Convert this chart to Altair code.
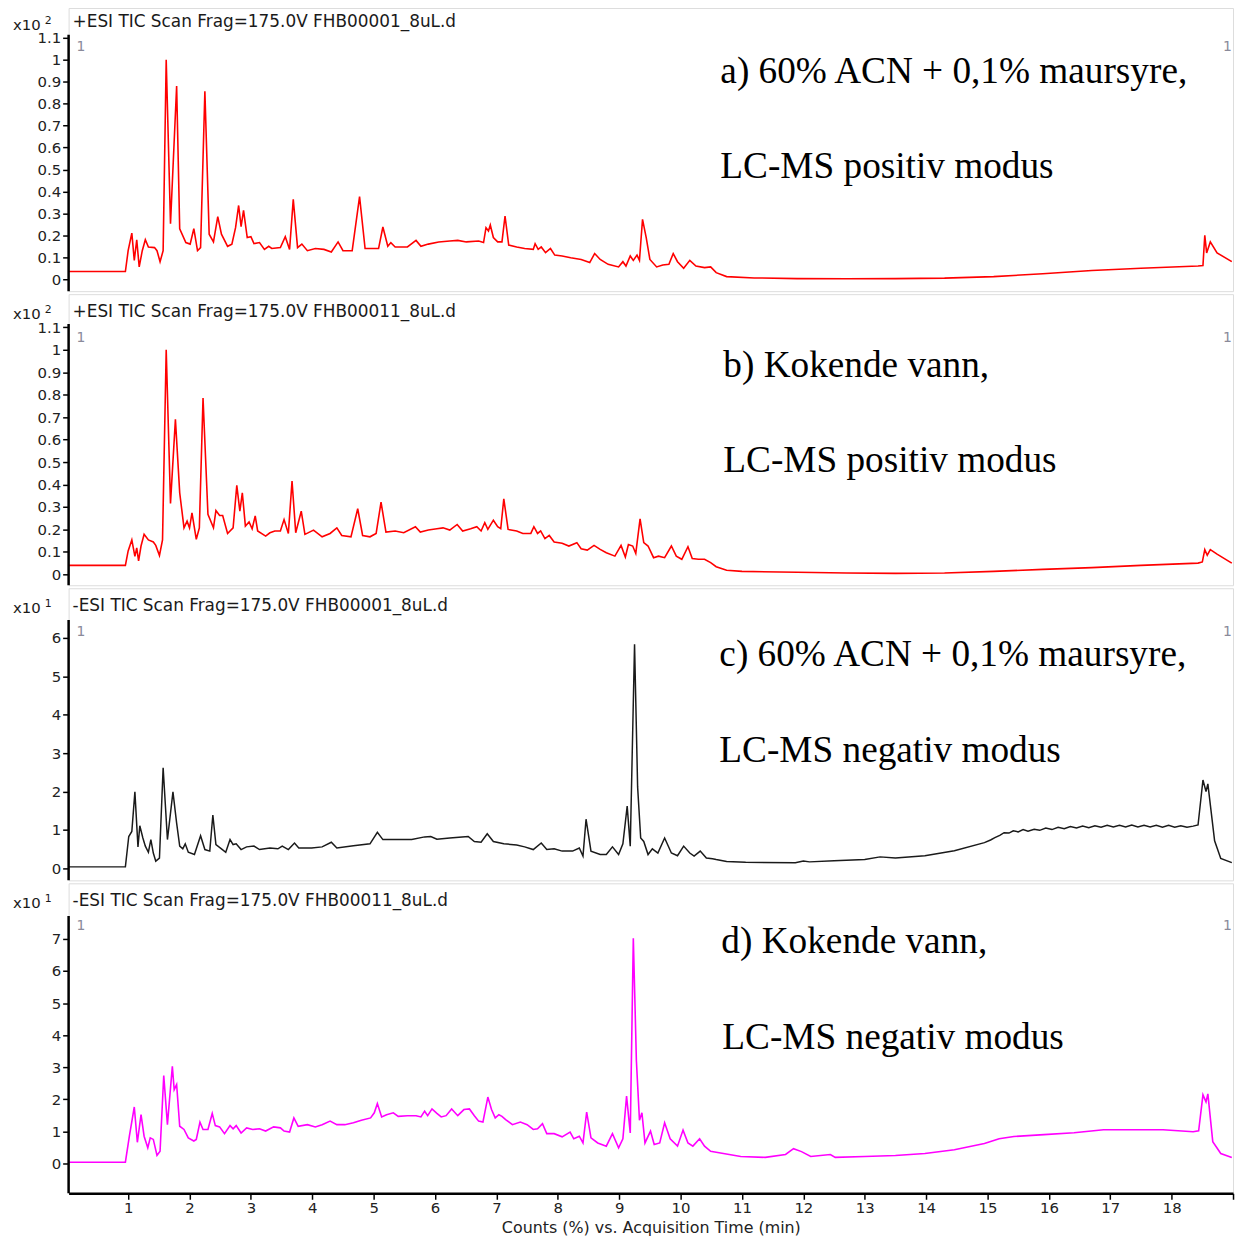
import altair as alt
import pandas as pd

# ---------------- data (time in min, intensity in panel units) ----------------
TRACE_A = [
    (0.03, 0.035), (0.955, 0.035), (1.0, 0.13), (1.06, 0.21), (1.10, 0.086), (1.14, 0.18), (1.18, 0.056),
    (1.23, 0.13), (1.28, 0.18), (1.33, 0.147), (1.43, 0.144), (1.47, 0.13), (1.52, 0.08), (1.57, 0.13),
    (1.62, 1.0), (1.69, 0.253), (1.79, 0.88), (1.84, 0.23), (1.94, 0.167), (2.01, 0.16), (2.07, 0.23),
    (2.13, 0.13), (2.18, 0.144), (2.25, 0.856), (2.32, 0.205), (2.39, 0.17), (2.46, 0.285), (2.52, 0.205),
    (2.62, 0.15), (2.69, 0.16), (2.75, 0.235), (2.80, 0.336), (2.84, 0.24), (2.88, 0.314), (2.94, 0.19),
    (3.0, 0.194), (3.05, 0.162), (3.14, 0.167), (3.22, 0.136), (3.29, 0.15), (3.34, 0.14), (3.48, 0.144),
    (3.56, 0.194), (3.63, 0.136), (3.69, 0.364), (3.76, 0.144), (3.83, 0.16), (3.92, 0.13), (4.05, 0.14),
    (4.19, 0.136), (4.31, 0.124), (4.42, 0.17), (4.50, 0.13), (4.65, 0.13), (4.77, 0.376), (4.86, 0.14),
    (5.08, 0.14), (5.15, 0.238), (5.23, 0.15), (5.28, 0.167), (5.35, 0.147), (5.55, 0.147), (5.69, 0.177),
    (5.77, 0.15), (5.89, 0.16), (6.06, 0.17), (6.24, 0.174), (6.37, 0.177), (6.51, 0.17), (6.71, 0.174),
    (6.79, 0.167), (6.83, 0.235), (6.87, 0.22), (6.90, 0.247), (6.95, 0.19), (7.02, 0.17), (7.09, 0.17),
    (7.14, 0.288), (7.20, 0.156), (7.33, 0.147), (7.46, 0.14), (7.60, 0.136), (7.63, 0.162), (7.68, 0.136),
    (7.73, 0.147), (7.80, 0.121), (7.88, 0.14), (7.95, 0.11), (8.07, 0.106), (8.21, 0.098), (8.38, 0.09),
    (8.52, 0.076), (8.60, 0.117), (8.69, 0.09), (8.82, 0.068), (8.99, 0.056), (9.06, 0.08), (9.11, 0.06),
    (9.18, 0.106), (9.23, 0.086), (9.29, 0.11), (9.33, 0.086), (9.38, 0.273), (9.44, 0.19), (9.50, 0.09),
    (9.61, 0.056), (9.71, 0.065), (9.81, 0.068), (9.88, 0.117), (9.95, 0.08), (10.05, 0.05), (10.15, 0.086),
    (10.25, 0.06), (10.39, 0.053), (10.49, 0.056), (10.58, 0.03), (10.75, 0.012), (11.2, 0.006),
    (11.9, 0.003), (12.7, 0.002), (13.5, 0.003), (14.3, 0.005), (15.1, 0.012), (15.9, 0.025), (16.7, 0.04),
    (17.5, 0.05), (18.43, 0.06), (18.51, 0.062), (18.54, 0.2), (18.57, 0.12), (18.63, 0.17), (18.74, 0.12),
    (18.98, 0.08),
]

TRACE_B = [
    (0.03, 0.04), (0.955, 0.04), (1.0, 0.104), (1.06, 0.153), (1.11, 0.08), (1.14, 0.118), (1.17, 0.06),
    (1.21, 0.126), (1.26, 0.178), (1.33, 0.153), (1.41, 0.144), (1.45, 0.129), (1.51, 0.084), (1.56, 0.153),
    (1.62, 1.0), (1.69, 0.316), (1.77, 0.69), (1.84, 0.363), (1.91, 0.207), (1.96, 0.237), (2.0, 0.207),
    (2.04, 0.274), (2.11, 0.156), (2.16, 0.207), (2.22, 0.785), (2.30, 0.267), (2.39, 0.207), (2.43, 0.284),
    (2.49, 0.262), (2.54, 0.262), (2.62, 0.182), (2.71, 0.207), (2.77, 0.396), (2.82, 0.281), (2.86, 0.363),
    (2.91, 0.215), (2.97, 0.233), (3.02, 0.203), (3.07, 0.26), (3.11, 0.193), (3.24, 0.17), (3.31, 0.185),
    (3.39, 0.193), (3.48, 0.193), (3.54, 0.244), (3.61, 0.182), (3.67, 0.415), (3.73, 0.185), (3.82, 0.281),
    (3.88, 0.178), (4.02, 0.197), (4.16, 0.167), (4.29, 0.182), (4.40, 0.207), (4.48, 0.173), (4.63, 0.167),
    (4.74, 0.292), (4.82, 0.173), (4.94, 0.167), (5.04, 0.182), (5.12, 0.321), (5.20, 0.188), (5.35, 0.193),
    (5.49, 0.185), (5.68, 0.212), (5.76, 0.188), (5.89, 0.197), (6.03, 0.203), (6.13, 0.207), (6.24, 0.197),
    (6.36, 0.222), (6.45, 0.193), (6.58, 0.203), (6.68, 0.212), (6.75, 0.193), (6.81, 0.23), (6.86, 0.2),
    (6.95, 0.241), (7.02, 0.212), (7.07, 0.203), (7.12, 0.336), (7.19, 0.2), (7.33, 0.193), (7.43, 0.182),
    (7.56, 0.182), (7.61, 0.212), (7.67, 0.182), (7.72, 0.193), (7.79, 0.159), (7.86, 0.173), (7.94, 0.144),
    (8.07, 0.138), (8.18, 0.126), (8.31, 0.141), (8.38, 0.114), (8.48, 0.108), (8.59, 0.129), (8.69, 0.111),
    (8.79, 0.096), (8.93, 0.081), (9.03, 0.129), (9.10, 0.077), (9.15, 0.133), (9.22, 0.126), (9.27, 0.093),
    (9.34, 0.247), (9.40, 0.141), (9.47, 0.126), (9.56, 0.074), (9.64, 0.081), (9.74, 0.074), (9.85, 0.126),
    (9.93, 0.081), (10.02, 0.067), (10.12, 0.123), (10.19, 0.07), (10.29, 0.067), (10.39, 0.067),
    (10.49, 0.052), (10.58, 0.034), (10.75, 0.018), (11.0, 0.013), (11.9, 0.009), (12.7, 0.006),
    (13.5, 0.004), (14.3, 0.006), (15.1, 0.013), (15.9, 0.022), (16.7, 0.03), (17.5, 0.04), (18.43, 0.05),
    (18.5, 0.055), (18.54, 0.11), (18.58, 0.085), (18.63, 0.11), (18.74, 0.09), (18.98, 0.05),
]

TRACE_C = [
    (0.03, 0.04), (0.955, 0.04), (1.01, 0.83), (1.06, 0.96), (1.11, 1.99), (1.16, 0.56), (1.19, 1.11),
    (1.24, 0.79), (1.28, 0.58), (1.33, 0.42), (1.37, 0.75), (1.41, 0.40), (1.45, 0.19), (1.51, 0.27),
    (1.57, 2.62), (1.64, 0.75), (1.73, 1.99), (1.79, 1.18), (1.84, 0.58), (1.89, 0.51), (1.93, 0.64),
    (1.98, 0.42), (2.08, 0.36), (2.18, 0.85), (2.25, 0.49), (2.33, 0.45), (2.38, 1.39), (2.43, 0.62),
    (2.52, 0.51), (2.59, 0.42), (2.66, 0.75), (2.71, 0.62), (2.76, 0.64), (2.84, 0.49), (2.93, 0.56),
    (3.05, 0.58), (3.14, 0.49), (3.31, 0.53), (3.44, 0.51), (3.51, 0.58), (3.61, 0.49), (3.71, 0.66),
    (3.78, 0.53), (3.99, 0.53), (4.16, 0.56), (4.31, 0.68), (4.40, 0.53), (4.67, 0.59), (4.94, 0.64),
    (5.06, 0.94), (5.15, 0.75), (5.35, 0.75), (5.62, 0.75), (5.83, 0.82), (5.93, 0.83), (6.03, 0.76),
    (6.24, 0.79), (6.44, 0.82), (6.54, 0.83), (6.64, 0.70), (6.75, 0.68), (6.85, 0.90), (6.95, 0.70),
    (7.12, 0.64), (7.33, 0.61), (7.46, 0.56), (7.60, 0.49), (7.73, 0.66), (7.82, 0.49), (7.94, 0.51),
    (8.07, 0.45), (8.24, 0.45), (8.35, 0.53), (8.41, 0.32), (8.46, 1.28), (8.54, 0.45), (8.69, 0.36),
    (8.79, 0.36), (8.89, 0.56), (8.99, 0.36), (9.06, 0.64), (9.13, 1.62), (9.18, 0.58), (9.25, 5.83),
    (9.30, 2.12), (9.35, 0.79), (9.40, 0.70), (9.47, 0.36), (9.54, 0.51), (9.63, 0.40), (9.74, 0.79),
    (9.85, 0.40), (9.95, 0.33), (10.05, 0.58), (10.15, 0.40), (10.22, 0.32), (10.32, 0.45), (10.42, 0.27),
    (10.52, 0.25), (10.58, 0.23), (10.75, 0.18), (11.06, 0.16), (11.87, 0.15), (12.0, 0.19), (12.1, 0.17),
    (12.5, 0.2), (13.0, 0.23), (13.25, 0.3), (13.5, 0.27), (13.98, 0.33), (14.46, 0.46), (14.95, 0.67),
    (15.05, 0.74), (15.12, 0.80), (15.2, 0.86), (15.27, 0.93), (15.35, 0.92), (15.42, 0.98), (15.5, 0.95),
    (15.58, 1.01), (15.66, 0.97), (15.76, 1.02), (15.85, 0.99), (15.95, 1.05), (16.05, 1.01), (16.15, 1.07),
    (16.25, 1.03), (16.35, 1.09), (16.45, 1.05), (16.55, 1.1), (16.65, 1.06), (16.75, 1.11), (16.85, 1.07),
    (16.95, 1.12), (17.05, 1.08), (17.15, 1.12), (17.25, 1.08), (17.35, 1.13), (17.45, 1.08), (17.55, 1.12),
    (17.65, 1.08), (17.75, 1.12), (17.85, 1.07), (17.95, 1.12), (18.05, 1.07), (18.15, 1.11), (18.25, 1.07),
    (18.35, 1.10), (18.43, 1.13), (18.51, 2.3), (18.56, 2.0), (18.59, 2.2), (18.7, 0.72), (18.8, 0.26),
    (18.98, 0.15),
]

TRACE_D = [
    (0.03, 0.04), (0.955, 0.04), (1.02, 0.85), (1.10, 1.76), (1.15, 0.66), (1.21, 1.52), (1.26, 0.85),
    (1.32, 0.49), (1.36, 0.80), (1.41, 0.75), (1.47, 0.25), (1.52, 0.38), (1.58, 2.74), (1.64, 1.21),
    (1.72, 3.03), (1.75, 2.30), (1.79, 2.46), (1.84, 1.16), (1.91, 1.06), (1.98, 0.80), (2.07, 0.70),
    (2.11, 0.75), (2.17, 1.29), (2.22, 1.06), (2.30, 1.06), (2.37, 1.56), (2.42, 1.18), (2.49, 1.14),
    (2.57, 0.93), (2.66, 1.18), (2.71, 1.08), (2.76, 1.18), (2.84, 0.95), (2.93, 1.11), (3.03, 1.06),
    (3.14, 1.08), (3.24, 1.01), (3.37, 1.14), (3.48, 1.11), (3.54, 1.01), (3.63, 0.98), (3.70, 1.42),
    (3.77, 1.16), (3.92, 1.21), (4.05, 1.14), (4.16, 1.21), (4.29, 1.32), (4.40, 1.21), (4.53, 1.21),
    (4.67, 1.27), (4.80, 1.35), (4.95, 1.42), (5.01, 1.58), (5.06, 1.87), (5.13, 1.45), (5.21, 1.52),
    (5.32, 1.58), (5.40, 1.47), (5.55, 1.49), (5.69, 1.49), (5.77, 1.45), (5.83, 1.63), (5.88, 1.49),
    (5.95, 1.70), (6.03, 1.56), (6.10, 1.45), (6.18, 1.49), (6.27, 1.70), (6.37, 1.49), (6.47, 1.68),
    (6.56, 1.70), (6.64, 1.49), (6.71, 1.32), (6.78, 1.29), (6.86, 2.07), (6.92, 1.68), (6.98, 1.42),
    (7.04, 1.52), (7.09, 1.47), (7.15, 1.37), (7.26, 1.21), (7.39, 1.29), (7.50, 1.21), (7.60, 1.06),
    (7.67, 1.08), (7.75, 1.24), (7.82, 0.93), (7.94, 0.93), (8.07, 0.83), (8.20, 0.98), (8.26, 0.77),
    (8.35, 0.85), (8.41, 0.64), (8.47, 1.60), (8.54, 0.80), (8.65, 0.64), (8.79, 0.54), (8.89, 0.93),
    (8.99, 0.49), (9.06, 0.77), (9.12, 2.10), (9.18, 0.95), (9.23, 7.02), (9.28, 3.2), (9.33, 1.35),
    (9.37, 1.58), (9.42, 0.64), (9.51, 1.01), (9.57, 0.59), (9.66, 0.64), (9.74, 1.27), (9.83, 0.77),
    (9.95, 0.54), (10.04, 1.04), (10.12, 0.64), (10.20, 0.54), (10.31, 0.77), (10.39, 0.54), (10.49, 0.38),
    (10.58, 0.35), (10.98, 0.22), (11.38, 0.19), (11.71, 0.28), (11.84, 0.46), (11.97, 0.37), (12.12, 0.22),
    (12.44, 0.28), (12.52, 0.19), (13.0, 0.22), (13.5, 0.25), (13.98, 0.31), (14.46, 0.43), (14.95, 0.62),
    (15.19, 0.77), (15.43, 0.84), (15.92, 0.9), (16.41, 0.96), (16.89, 1.05), (17.38, 1.05), (17.86, 1.05),
    (18.35, 0.99), (18.44, 1.02), (18.51, 2.14), (18.56, 1.92), (18.59, 2.17), (18.67, 0.68), (18.80, 0.31),
    (18.98, 0.19),
]

YTICKS_POS = [0, 0.1, 0.2, 0.3, 0.4, 0.5, 0.6, 0.7, 0.8, 0.9, 1, 1.1]
YTICKS_C = [0, 1, 2, 3, 4, 5, 6]
YTICKS_D = [0, 1, 2, 3, 4, 5, 6, 7]
XTICKS = [1, 2, 3, 4, 5, 6, 7, 8, 9, 10, 11, 12, 13, 14, 15, 16, 17, 18, 19]

HEADERS = [
    "+ESI TIC Scan Frag=175.0V FHB00001_8uL.d",
    "+ESI TIC Scan Frag=175.0V FHB00011_8uL.d",
    "-ESI TIC Scan Frag=175.0V FHB00001_8uL.d",
    "-ESI TIC Scan Frag=175.0V FHB00011_8uL.d",
]
EXPONENTS = ["2", "2", "1", "1"]
ANNOT_1 = ["a) 60% ACN + 0,1% maursyre,", "b) Kokende vann,", "c) 60% ACN + 0,1% maursyre,", "d) Kokende vann,"]
ANNOT_2 = ["LC-MS positiv modus", "LC-MS positiv modus", "LC-MS negativ modus", "LC-MS negativ modus"]

# ---------------- layout / style ----------------
X_DOMAIN = [0.03, 19.0]
PLOT_W = 1172
SANS = "DejaVu Sans"
SERIF = "Liberation Serif"

PANELS = [
    dict(data=TRACE_A, color="#ff0000", sw=1.6, height=285, ydom=[-0.0543, 1.2353], yticks=YTICKS_POS,
         head_y=14, exp_y=17, one_y=39, axis_top=27, ann_x=(656, 656), ann_y=(75, 171)),
    dict(data=TRACE_B, color="#ff0000", sw=1.6, height=293, ydom=[-0.0487, 1.2478], yticks=YTICKS_POS,
         head_y=18, exp_y=20, one_y=44, axis_top=30, ann_x=(659, 659), ann_y=(83, 179)),
    dict(data=TRACE_C, color="#1a1a1a", sw=1.5, height=294, ydom=[-0.310, 7.287], yticks=YTICKS_C,
         head_y=18, exp_y=20, one_y=44, axis_top=32, ann_x=(655, 655), ann_y=(78, 175)),
    dict(data=TRACE_D, color="#ff00ff", sw=1.6, height=312, ydom=[-0.929, 8.731], yticks=YTICKS_D,
         head_y=18, exp_y=20, one_y=43, axis_top=33, ann_x=(657, 658), ann_y=(70, 167)),
]

ONE = pd.DataFrame({"k": [0]})


def txt(s, x, y, size, font=SANS, color="#1a1a1a", align="left", baseline="middle"):
    return alt.Chart(ONE).mark_text(
        text=s, align=align, baseline=baseline, font=font, fontSize=size, color=color
    ).encode(x=alt.value(x), y=alt.value(y))


def make_panel(i, cfg, show_x):
    df = pd.DataFrame(cfg["data"], columns=["t", "v"])
    if show_x:
        x_axis = alt.Axis(
            values=XTICKS, labelExpr="datum.value == 19 ? '' : datum.label",
            title="Counts (%) vs. Acquisition Time (min)", grid=False,
            domainColor="black", domainWidth=2.5, tickColor="black", tickWidth=1.5, tickSize=6,
            labelFont=SANS, labelFontSize=15, labelColor="#222", labelPadding=1,
            titleFont=SANS, titleFontSize=16, titleFontWeight="normal", titleColor="#222", titlePadding=4,
        )
    else:
        x_axis = None
    line = alt.Chart(df).mark_line(color=cfg["color"], strokeWidth=cfg["sw"], clip=True).encode(
        x=alt.X("t:Q", scale=alt.Scale(domain=X_DOMAIN, nice=False, zero=False), axis=x_axis),
        y=alt.Y("v:Q", scale=alt.Scale(domain=cfg["ydom"], nice=False, zero=False),
                axis=alt.Axis(values=cfg["yticks"], format="~g", title=None, domain=False, grid=False,
                              tickSize=6, tickWidth=1.5, tickColor="black", labelPadding=2,
                              labelFont=SANS, labelFontSize=15, labelColor="#222")),
    )
    h = cfg["height"]
    left_rule = alt.Chart(ONE).mark_rule(color="black", strokeWidth=2.5).encode(
        x=alt.value(0), y=alt.value(cfg["axis_top"]), y2=alt.value(h)
    )
    layers = [
        line,
        left_rule,
        txt("x10", -56, cfg["exp_y"], 15),
        txt(EXPONENTS[i], -24, cfg["exp_y"] - 4, 11),
        txt(HEADERS[i], 4, cfg["head_y"], 17),
        txt("1", 8, cfg["one_y"], 14, color="#8a8a9a"),
        txt("1", PLOT_W - 10, cfg["one_y"], 14, color="#8a8a9a"),
        txt(ANNOT_1[i], cfg["ann_x"][0], cfg["ann_y"][0], 37.5, font=SERIF, color="#000000", baseline="alphabetic"),
        txt(ANNOT_2[i], cfg["ann_x"][1], cfg["ann_y"][1], 37.5, font=SERIF, color="#000000", baseline="alphabetic"),
    ]
    return alt.layer(*layers).properties(width=PLOT_W, height=h)


panels = [make_panel(i, cfg, i == len(PANELS) - 1) for i, cfg in enumerate(PANELS)]

chart = alt.vconcat(
    *panels, spacing=0, padding={"left": 4, "top": -5, "right": 2, "bottom": 0}
).configure_view(stroke="black", strokeWidth=1.2).configure(background="white")

chart.save("out.html", embed_options={"renderer": "svg", "actions": False})
